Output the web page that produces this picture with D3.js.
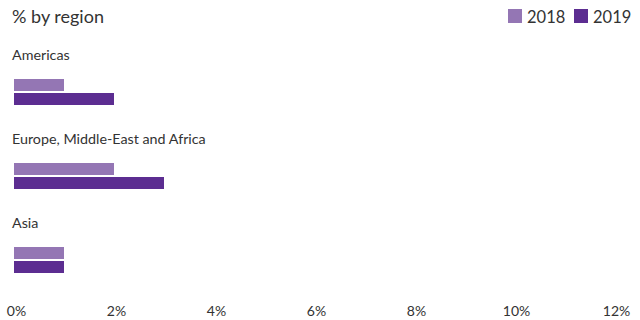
<!DOCTYPE html>
<html>
<head>
<meta charset="utf-8">
<script src="https://cdn.jsdelivr.net/npm/d3@7"></script>
<style>
  body { margin: 0; background: #fff; }
  text { font-family: Lato, "Open Sans", sans-serif; fill: #333; }
  .xaxis .domain, .xaxis line { display: none; }
</style>
</head>
<body>
<div id="chart"></div>
<script>
// data
var regions = ["Americas", "Europe, Middle-East and Africa", "Asia"];
var years = ["2018", "2019"];
var values2018 = [1, 2, 1];
var values2019 = [2, 3, 1];
var tickValues = [0, 2, 4, 6, 8, 10, 12];
var colors = ["#9476b4", "#5c2d91"];

var width = 640, height = 320;

var svg = d3.select("#chart").append("svg")
  .attr("width", width)
  .attr("height", height);

var xScale = d3.scaleLinear()
  .domain([0, 12])
  .range([14, 614]);

var yScale = d3.scaleBand()
  .domain(regions)
  .range([50, 302]);

// bars inside each region band
var ySub = d3.scaleBand()
  .domain(years)
  .range([29, 55])
  .paddingInner(2 / 14);

var color = d3.scaleOrdinal().domain(years).range(colors);

var rows = regions.map((r, i) => ({
  region: r,
  vals: [{ year: "2018", v: values2018[i] }, { year: "2019", v: values2019[i] }]
}));

var group = svg.selectAll(".region")
  .data(rows)
  .enter().append("g")
  .attr("class", "region")
  .attr("transform", d => "translate(0," + yScale(d.region) + ")");

group.append("text")
  .attr("x", 12)
  .attr("y", 9.5)
  .style("font-size", "14.3px")
  .text(d => d.region);

group.selectAll("rect")
  .data(d => d.vals)
  .enter().append("rect")
  .attr("x", xScale(0))
  .attr("y", d => ySub(d.year))
  .attr("width", d => xScale(d.v) - xScale(0))
  .attr("height", ySub.bandwidth())
  .attr("fill", d => color(d.year));

// x axis, labels only
var xAxis = d3.axisBottom(xScale)
  .tickValues(tickValues)
  .tickSize(0)
  .tickPadding(0)
  .tickFormat(d => d + "%");

svg.append("g")
  .attr("class", "xaxis")
  .attr("transform", "translate(2,306)")
  .call(xAxis)
  .selectAll("text")
  .style("font-size", "14px")
  .style("fill", "#333");

// title
svg.append("text")
  .attr("x", 12)
  .attr("y", 23)
  .style("font-size", "18px")
  .text("% by region");

// legend
var legendX = [508, 574];
var legend = svg.selectAll(".legend")
  .data(years)
  .enter().append("g")
  .attr("class", "legend")
  .attr("transform", (d, i) => "translate(" + legendX[i] + ",0)");

legend.append("rect")
  .attr("x", 0)
  .attr("y", 9)
  .attr("width", 14)
  .attr("height", 14)
  .attr("fill", d => color(d));

legend.append("text")
  .attr("x", 19)
  .attr("y", 23)
  .style("font-size", "16.5px")
  .text(d => d);
</script>
</body>
</html>
